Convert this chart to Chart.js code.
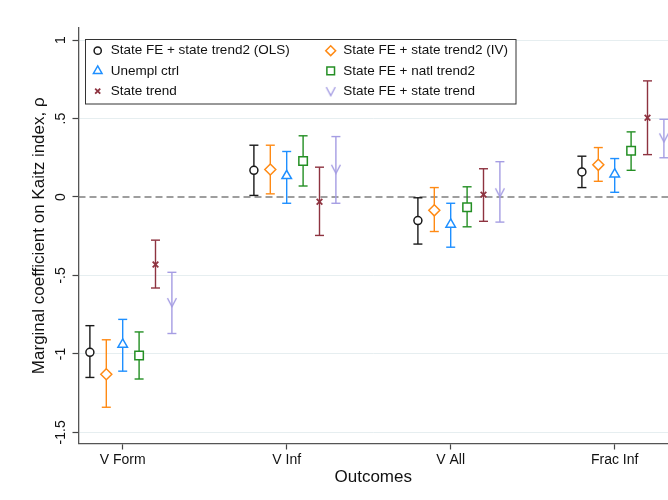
<!DOCTYPE html>
<html>
<head>
<meta charset="utf-8">
<title>Marginal coefficient on Kaitz index</title>
<script src="https://cdn.jsdelivr.net/npm/chart.js@4.4.1/dist/chart.umd.min.js"></script>
<style>
  html, body { margin: 0; padding: 0; background: #fff; overflow: hidden; }
  canvas { display: block; }
</style>
</head>
<body>
<canvas id="grafico" width="668" height="500"></canvas>
<script>
// Dados (coeficiente e intervalo de confiança por desfecho)
const desfechos = ['V Form', 'V Inf', 'V All', 'Frac Inf'];
const nomesSeries = [
  'State FE + state trend2 (OLS)',
  'State FE + state trend2 (IV)',
  'Unempl ctrl',
  'State FE + natl trend2',
  'State trend',
  'State FE + state trend'
];
// deslocamento de cada série dentro do grupo (unidades do eixo x)
const deslocamentos = [-0.2, -0.1, 0, 0.1, 0.2, 0.3];

const olsCoef = [-0.99, 0.17, -0.15, 0.16];
const olsLow = [-1.15, 0.01, -0.30, 0.06];
const olsHigh = [-0.82, 0.33, -0.005, 0.26];

const ivCoef = [-1.13, 0.175, -0.085, 0.205];
const ivLow = [-1.34, 0.02, -0.22, 0.10];
const ivHigh = [-0.91, 0.33, 0.06, 0.315];

const unemplCoef = [-0.94, 0.135, -0.175, 0.145];
const unemplLow = [-1.11, -0.04, -0.32, 0.03];
const unemplHigh = [-0.78, 0.29, -0.04, 0.245];

const natlCoef = [-1.01, 0.23, -0.065, 0.295];
const natlLow = [-1.16, 0.07, -0.19, 0.17];
const natlHigh = [-0.86, 0.39, 0.065, 0.415];

const trendCoef = [-0.43, -0.03, 0.015, 0.505];
const trendLow = [-0.58, -0.245, -0.155, 0.27];
const trendHigh = [-0.275, 0.19, 0.18, 0.74];

const feTrendCoef = [-0.67, 0.18, 0.03, 0.38];
const feTrendLow = [-0.87, -0.04, -0.16, 0.25];
const feTrendHigh = [-0.48, 0.385, 0.225, 0.495];

const yTicks = [-1.5, -1, -0.5, 0, 0.5, 1];
const yTickLabels = ['-1.5', '-1', '-.5', '0', '.5', '1'];

const xMin = 0.7305, xMax = 4.325;
const yMin = -1.571, yMax = 1.077;

Chart.defaults.font.family = "'Liberation Sans', Arial, Helvetica, sans-serif";
Chart.defaults.color = '#111';

// marcador em "V" (não existe no Chart.js)
function marcadorV(cor) {
  const c = document.createElement('canvas');
  c.width = 12; c.height = 12;
  const g = c.getContext('2d');
  g.strokeStyle = cor;
  g.lineWidth = 1.4;
  g.beginPath();
  g.moveTo(1.5, 2);
  g.lineTo(6, 10.5);
  g.lineTo(10.5, 2);
  g.stroke();
  return c;
}

const series = [
  { nome: nomesSeries[0], coef: olsCoef, low: olsLow, high: olsHigh, cor: '#1a1a1a', estilo: 'circle', raio: 4, espessura: 1.5 },
  { nome: nomesSeries[1], coef: ivCoef, low: ivLow, high: ivHigh, cor: '#ff8a14', estilo: 'rectRot', raio: 5.5, espessura: 1.5 },
  { nome: nomesSeries[2], coef: unemplCoef, low: unemplLow, high: unemplHigh, cor: '#1e8fff', estilo: 'triangle', raio: 5.5, espessura: 1.5 },
  { nome: nomesSeries[3], coef: natlCoef, low: natlLow, high: natlHigh, cor: '#248f24', estilo: 'rect', raio: 6, espessura: 1.5 },
  { nome: nomesSeries[4], coef: trendCoef, low: trendLow, high: trendHigh, cor: '#8e3340', estilo: 'crossRot', raio: 4, espessura: 1.8 },
  { nome: nomesSeries[5], coef: feTrendCoef, low: feTrendLow, high: feTrendHigh, cor: '#a59de3', estilo: marcadorV('#a59de3'), raio: 5, espessura: 1.4 }
];

const datasets = [];
series.forEach((s, si) => {
  const pontosIC = [];
  desfechos.forEach((d, i) => {
    const x = i + 1 + deslocamentos[si];
    pontosIC.push({ x: x, y: s.high[i] }, { x: x, y: s.low[i] }, { x: x, y: null });
  });
  datasets.push({
    type: 'line',
    label: s.nome + ' IC',
    data: pontosIC,
    borderColor: s.cor,
    borderWidth: 1.4,
    pointStyle: 'line',
    pointRadius: 4.5,
    pointBorderColor: s.cor,
    pointBorderWidth: 1.4,
    spanGaps: false,
    fill: false,
    clip: false,
    order: 2
  });
  datasets.push({
    type: 'scatter',
    label: s.nome,
    data: desfechos.map((d, i) => ({ x: i + 1 + deslocamentos[si], y: s.coef[i] })),
    pointStyle: s.estilo,
    pointRadius: s.raio,
    pointBorderColor: s.cor,
    pointBackgroundColor: '#fff',
    pointBorderWidth: s.espessura,
    clip: false,
    order: 1
  });
});
// linha tracejada no zero
datasets.push({
  type: 'line',
  label: 'zero',
  data: [{ x: xMin, y: 0 }, { x: xMax, y: 0 }],
  borderColor: '#7f7f7f',
  borderWidth: 1.4,
  borderDash: [7, 4],
  pointRadius: 0,
  order: 3
});

// rótulos do eixo y girados (como no Stata)
const rotulosY = {
  id: 'rotulosY',
  afterDraw(chart) {
    const ctx = chart.ctx;
    const y = chart.scales.y;
    ctx.save();
    ctx.fillStyle = '#111';
    ctx.font = "14px 'Liberation Sans', Arial, sans-serif";
    ctx.textAlign = 'center';
    ctx.textBaseline = 'alphabetic';
    yTicks.forEach((v, i) => {
      ctx.save();
      ctx.translate(65, y.getPixelForValue(v));
      ctx.rotate(-Math.PI / 2);
      ctx.fillText(yTickLabels[i], 0, 0);
      ctx.restore();
    });
    ctx.restore();
  }
};

// legenda em caixa dentro da área do gráfico, duas colunas
const legendaCaixa = {
  id: 'legendaCaixa',
  afterDraw(chart) {
    const ctx = chart.ctx;
    ctx.save();
    ctx.fillStyle = '#fff';
    ctx.fillRect(85.5, 39.5, 430.5, 64.5);
    ctx.strokeStyle = '#333';
    ctx.lineWidth = 1;
    ctx.strokeRect(85.5, 39.5, 430.5, 64.5);
    ctx.font = "13.5px 'Liberation Sans', Arial, sans-serif";
    ctx.textBaseline = 'middle';
    ctx.textAlign = 'left';
    series.forEach((s, i) => {
      const col = i % 2;
      const lin = Math.floor(i / 2);
      const mx = col ? 330.7 : 97.7;
      const ty = 50.7 + lin * 20.2;
      ctx.fillStyle = '#fff';
      ctx.strokeStyle = s.cor;
      ctx.lineWidth = s.espessura;
      Chart.helpers.drawPoint(ctx, { pointStyle: s.estilo, radius: s.raio * 0.9, borderWidth: s.espessura, rotation: 0 }, mx, ty);
      ctx.fillStyle = '#111';
      ctx.fillText(s.nome, col ? 343.3 : 110.7, ty);
    });
    ctx.restore();
  }
};

new Chart(document.getElementById('grafico'), {
  type: 'scatter',
  data: { datasets: datasets },
  options: {
    responsive: false,
    animation: false,
    events: [],
    layout: { autoPadding: false, padding: { top: 28, right: 0, bottom: 0, left: 0 } },
    plugins: {
      legend: { display: false },
      tooltip: { enabled: false }
    },
    scales: {
      x: {
        type: 'linear',
        min: xMin,
        max: xMax,
        afterBuildTicks: s => { s.ticks = desfechos.map((d, i) => ({ value: i + 1 })); },
        afterFit: s => { s.height = 56.5; },
        ticks: {
          callback: v => desfechos[v - 1] || '',
          font: { size: 14 },
          color: '#111',
          padding: 2,
          maxRotation: 0,
          autoSkip: false
        },
        grid: { drawOnChartArea: false, tickLength: 6, tickColor: '#444', tickWidth: 1.2 },
        border: { color: '#555', width: 1.3 },
        title: { display: true, text: 'Outcomes', font: { size: 17 }, color: '#111', padding: { top: 0, bottom: 12 } }
      },
      y: {
        min: yMin,
        max: yMax,
        afterFit: s => { s.width = 78.5; },
        ticks: { display: false, stepSize: 0.5, includeBounds: false },
        grid: {
          color: c => (c.tick && c.tick.value === 0) ? 'rgba(0,0,0,0)' : '#e6eef0',
          lineWidth: 1,
          tickLength: 6,
          tickColor: '#444',
          tickWidth: 1.2
        },
        border: { color: '#555', width: 1.3 },
        title: { display: true, text: 'Marginal coefficient on Kaitz index, ρ', font: { size: 17 }, color: '#111', padding: { top: 29, bottom: 0 } }
      }
    }
  },
  plugins: [rotulosY, legendaCaixa]
});
</script>
</body>
</html>
